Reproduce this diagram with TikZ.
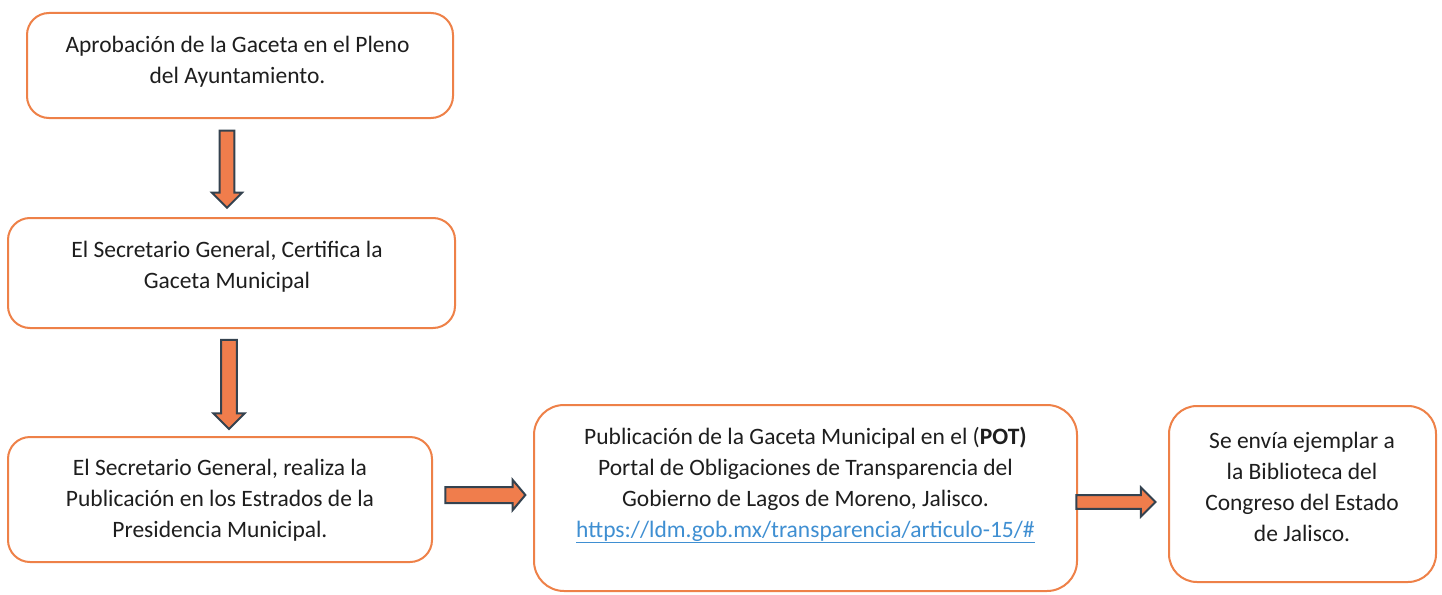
\documentclass[tikz,border=0pt]{standalone}
\usepackage{fontspec}
\setmainfont{Carlito}
\usetikzlibrary{shapes.arrows}
\definecolor{boxline}{HTML}{EE8148}
\definecolor{arrfill}{HTML}{F07D4C}
\definecolor{arrline}{HTML}{34424F}
\definecolor{txt}{HTML}{1E1E1E}
\definecolor{link}{HTML}{3F8FD2}
\begin{document}
\begin{tikzpicture}[x=1pt,y=-1pt,
  flowbox/.style={draw=boxline,line width=2pt,rounded corners=22pt,fill=white,inner sep=0pt},
  boxtext/.style={align=center,text=txt,inner sep=0pt,font=\fontsize{23.5}{31}\selectfont},
  blockarrow/.style={single arrow,draw=arrline,fill=arrfill,line width=2pt,inner sep=0pt,
     single arrow tip angle=90,anchor=center,text width=0pt}]
\useasboundingbox[fill=white] (0,0) rectangle (1442,594);
% boxes
\node[flowbox,minimum width=426pt,minimum height=105pt] (b1) at (240,65.5) {};
\node[flowbox,minimum width=447pt,minimum height=110pt] (b2) at (231.5,273) {};
\node[flowbox,minimum width=424pt,minimum height=125pt] (b3) at (220,499.5) {};
\node[flowbox,minimum width=543pt,minimum height=186pt,rounded corners=30pt] (b4) at (805.5,498) {};
\node[flowbox,minimum width=267pt,minimum height=176pt,rounded corners=28pt] (b5) at (1302.5,494) {};
% texts
\node[boxtext] (t1) at (237.5,62) {Aprobación de la Gaceta en el Pleno\\del Ayuntamiento.};
\node[boxtext] (t2) at (227,267) {El Secretario General, Certifica la\\Gaceta Municipal};
\node[boxtext] (t3) at (220,500) {El Secretario General, realiza la\\Publicación en los Estrados de la\\Presidencia Municipal.};
\node[boxtext] (t4) at (805.5,485) {Publicación de la Gaceta Municipal en el (\textbf{POT)}\\Portal de Obligaciones de Transparencia del\\Gobierno de Lagos de Moreno, Jalisco.\\\textcolor{link}{\underline{https://ldm.gob.mx/transparencia/articulo-15/\#}}};
\node[boxtext] (t5) at (1302,487) {Se envía ejemplar a\\la Biblioteca del\\Congreso del Estado\\de Jalisco.};
% block arrows
\node[blockarrow,minimum height=77pt,minimum width=30pt,text height=12pt,rotate=-90] (a1) at (227,165.5) {};
\node[blockarrow,minimum height=89pt,minimum width=31pt,text height=13pt,rotate=-90] (a2) at (229,380.5) {};
\node[blockarrow,minimum height=80pt,minimum width=26pt,text height=14pt,single arrow tip angle=100] (a3) at (482,495) {};
\node[blockarrow,minimum height=79pt,minimum width=29pt,text height=11pt] (a4) at (1112.5,502) {};
\end{tikzpicture}
\end{document}
